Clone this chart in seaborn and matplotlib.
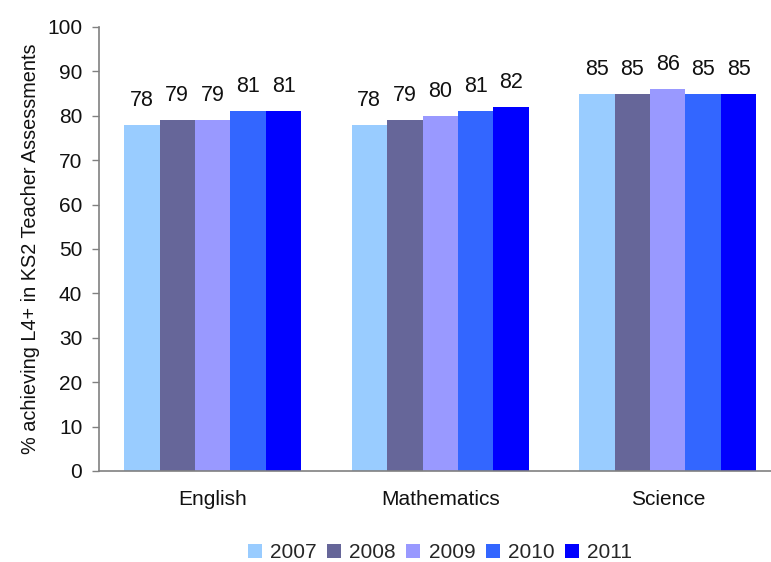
import matplotlib
matplotlib.use("Agg")
import matplotlib.pyplot as plt
import seaborn as sns
import pandas as pd

subjects = ["English", "Mathematics", "Science"]
years = ["2007", "2008", "2009", "2010", "2011"]
english = [78, 79, 79, 81, 81]
mathematics = [78, 79, 80, 81, 82]
science = [85, 85, 86, 85, 85]
colors = ["#99CCFF", "#666699", "#9999FF", "#3366FF", "#0000FF"]

rows = []
for subj, vals in zip(subjects, [english, mathematics, science]):
    for yr, v in zip(years, vals):
        rows.append({"Subject": subj, "Year": yr, "Value": v})
df = pd.DataFrame(rows)

sns.set_theme(style="white")
plt.rcParams["font.family"] = ["Liberation Sans", "DejaVu Sans"]

fig = plt.figure(figsize=(7.71, 5.62), dpi=100)
ax = fig.add_axes([99 / 771, 1 - 471 / 562, 682.5 / 771, 444 / 562])

sns.barplot(data=df, x="Subject", y="Value", hue="Year", palette=colors,
            width=0.78, gap=0, saturation=1, ax=ax, errorbar=None,
            edgecolor="none", linewidth=0)

for cont in ax.containers:
    ax.bar_label(cont, labels=[f"{v:.0f}" for v in cont.datavalues],
                 padding=10, fontsize=15.5, color="#111111")

ax.set_ylim(0, 100)
ax.set_yticks(range(0, 101, 10))
ax.set_xlim(-0.5, 2.5)
ax.tick_params(axis="y", which="both", left=True, length=5, width=1,
               color="#808080", labelsize=15, pad=7, labelcolor="#111111")
ax.tick_params(axis="x", bottom=False, labelsize=15, pad=8,
               labelcolor="#111111")
ax.set_xlabel("")
ax.set_ylabel("% achieving L4+ in KS2 Teacher Assessments", fontsize=14.3,
              color="#111111", labelpad=5)
for side in ["top", "right"]:
    ax.spines[side].set_visible(False)
for side in ["left", "bottom"]:
    ax.spines[side].set_color("#808080")
    ax.spines[side].set_linewidth(1.2)

handles, labels = ax.get_legend_handles_labels()
ax.legend_.remove()
fig.legend(handles, labels, loc="center", bbox_to_anchor=(440 / 771, 1 - 553 / 562),
           ncol=5, frameon=False, fontsize=15, handlelength=0.67, handleheight=0.67,
           handletextpad=0.4, columnspacing=0.5)

fig.savefig("out.png", dpi=100)
